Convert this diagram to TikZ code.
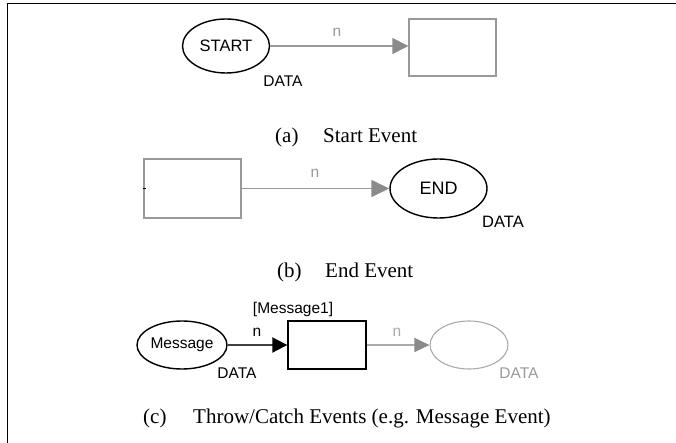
\documentclass[tikz,border=0pt]{standalone}
\usepackage{fontspec}
\setmainfont{Liberation Serif}
\setsansfont{Liberation Sans}
\usetikzlibrary{arrows.meta,shapes.geometric}

\definecolor{edgegray}{HTML}{999999}
\definecolor{tipgray}{HTML}{8A8A8A}
\definecolor{ghost}{HTML}{AAAAAA}

\tikzset{
  lbl/.style={font=\sffamily\fontsize{15.5}{18}\selectfont, inner sep=0pt, anchor=base},
  captext/.style={font=\rmfamily\fontsize{21}{24}\selectfont, inner sep=0pt, anchor=base west},
  evt/.style={ellipse, draw, line width=1.4pt, inner sep=0pt,
              font=\sffamily\fontsize{16.5}{19}\selectfont},
  task/.style={rectangle, draw, line width=1.4pt, inner sep=0pt},
  flow/.style={line width=1.4pt, -{Triangle[length=16pt,width=15pt]}},
}

\begin{document}
\begin{tikzpicture}[x=1pt,y=-1pt]
  \useasboundingbox (0,0) rectangle (676,443);
  % open frame: top and left rule
  \draw[line width=1.8pt] (676,3.5) -- (7.5,3.5) -- (7.5,443);

  % (a) start event
  \node[evt, minimum width=87pt, minimum height=54pt] (start) at (226,46) {START};
  \node[task, draw=edgegray, minimum width=87pt, minimum height=57pt] (recta) at (452.5,47.5) {};
  \draw[flow, edgegray, -{Triangle[length=16pt,width=16pt,color=tipgray]}]
    (start.east) -- (start.east -| recta.west);
  \node[lbl, text=edgegray] (na) at (337,37) {n};
  \node[lbl] (dataa) at (283,87) {DATA};
  \node[captext] (capa) at (275,143) {(a)};
  \node[captext] (capat) at (323,143) {Start Event};

  % (b) end event
  \node[task, draw=edgegray, minimum width=97pt, minimum height=59pt] (rectb) at (192.5,188.5) {};
  \node[evt, minimum width=97pt, minimum height=59pt, font=\sffamily\fontsize{18}{21}\selectfont] (endev) at (438.5,188.5) {END};
  \draw[flow, edgegray, -{Triangle[length=18pt,width=17pt,color=tipgray]}]
    (rectb.east) -- (endev.west);
  \draw[line width=1.6pt] (rectb.west) -- ++(2.5,0);
  \node[lbl, text=edgegray] (nb) at (315,178) {n};
  \node[lbl, font=\sffamily\fontsize{16.5}{19}\selectfont] (datab) at (503,228) {DATA};
  \node[captext] (capb) at (277,277) {(b)};
  \node[captext] (capbt) at (325,277) {End Event};

  % (c) throw / catch events
  \node[evt, minimum width=90pt, minimum height=48pt, font=\sffamily\fontsize{15.5}{18}\selectfont] (msg) at (182,345) {Message};
  \node[task, minimum width=78pt, minimum height=48pt] (rectc) at (327,345) {};
  \node[evt, draw=ghost, line width=1.1pt, minimum width=78pt, minimum height=48pt] (catch) at (469,345) {};
  \draw[flow, line width=2pt, draw=black!75, -{Triangle[length=15pt,width=15pt,color=black]}]
    (msg.east) -- (rectc.west);
  \draw[flow, ghost, line width=1.3pt, -{Triangle[length=15pt,width=14pt,color=tipgray]}]
    (rectc.east) -- (catch.west);
  \node[lbl] (msglbl) at (293,313) {[Message1]};
  \node[lbl] (nc1) at (257,336) {n};
  \node[lbl, text=ghost] (nc2) at (397,336) {n};
  \node[lbl] (datac1) at (237,378) {DATA};
  \node[lbl, text=edgegray] (datac2) at (519,378) {DATA};
  \node[captext] (capc) at (143,423) {(c)};
  \node[captext] (capct) at (193,423) {Throw/Catch Events (e.g. Message Event)};
\end{tikzpicture}
\end{document}
